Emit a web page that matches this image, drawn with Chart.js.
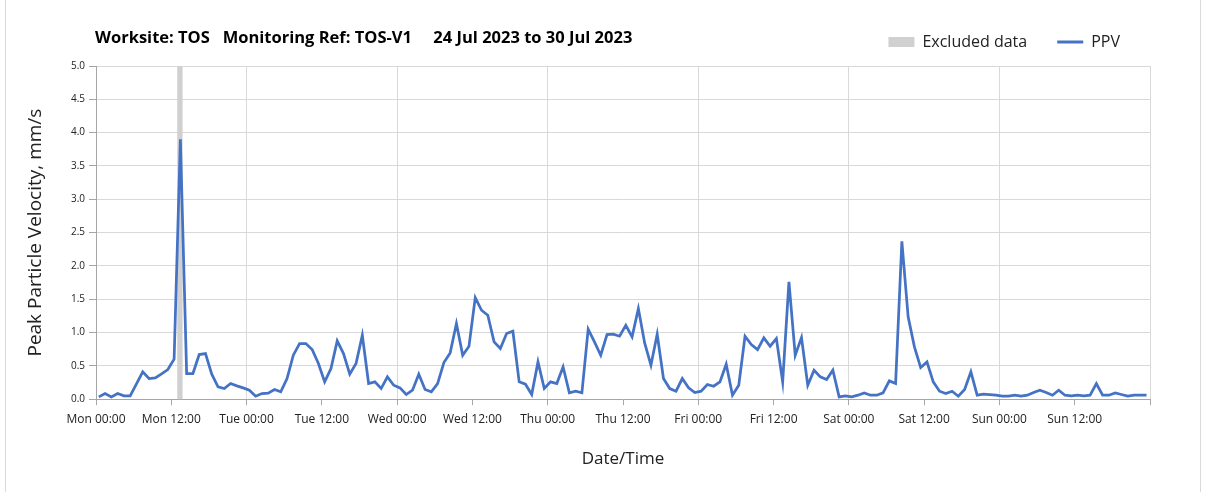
<!DOCTYPE html>
<html>
<head>
<meta charset="utf-8">
<title>PPV TOS-V1</title>
<script src="https://cdn.jsdelivr.net/npm/chart.js@4.4.0/dist/chart.umd.min.js"></script>
<style>
  html, body { margin: 0; padding: 0; background: #fff; }
  #frame { position: relative; width: 1208px; height: 492px; }
  #edge { position: absolute; left: 5px; top: 0; width: 1196px; height: 492px;
          border-left: 1px solid #d9d9d9; border-right: 1px solid #d9d9d9; box-sizing: border-box; }
  canvas { position: absolute; left: 0; top: 0; }
</style>
</head>
<body>
<div id="frame">
  <div id="edge"></div>
  <canvas id="myChart" width="1208" height="492"></canvas>
</div>
<script>
// hourly PPV readings (mm/s), first reading just before Mon 00:30
var ppv = [
  0.035, 0.085, 0.035, 0.085, 0.05, 0.05, 0.23, 0.41, 0.31, 0.32, 0.38, 0.445,
  0.6, 3.9, 0.385, 0.385, 0.67, 0.685, 0.375, 0.185, 0.16, 0.235, 0.2, 0.17,
  0.135, 0.045, 0.085, 0.09, 0.145, 0.11, 0.31, 0.66, 0.835, 0.835, 0.745, 0.535,
  0.26, 0.46, 0.875, 0.685, 0.375, 0.535, 0.96, 0.235, 0.26, 0.16, 0.335, 0.21,
  0.17, 0.07, 0.135, 0.375, 0.145, 0.11, 0.235, 0.55, 0.695, 1.135, 0.66, 0.795,
  1.525, 1.335, 1.26, 0.86, 0.76, 0.985, 1.02, 0.26, 0.225, 0.07, 0.56, 0.16,
  0.26, 0.235, 0.485, 0.095, 0.12, 0.095, 1.05, 0.86, 0.66, 0.97, 0.975, 0.945,
  1.11, 0.935, 1.36, 0.845, 0.51, 0.975, 0.31, 0.16, 0.12, 0.31, 0.17, 0.1,
  0.12, 0.22, 0.195, 0.26, 0.525, 0.06, 0.21, 0.945, 0.82, 0.745, 0.92, 0.795,
  0.91, 0.26, 1.76, 0.66, 0.925, 0.21, 0.435, 0.335, 0.295, 0.435, 0.035, 0.05,
  0.035, 0.06, 0.095, 0.06, 0.06, 0.095, 0.275, 0.235, 2.37, 1.235, 0.785, 0.475,
  0.56, 0.26, 0.12, 0.085, 0.12, 0.045, 0.145, 0.41, 0.06, 0.075, 0.07, 0.06,
  0.045, 0.045, 0.06, 0.045, 0.06, 0.1, 0.135, 0.1, 0.06, 0.135, 0.06, 0.05,
  0.06, 0.05, 0.06, 0.235, 0.06, 0.06, 0.095, 0.07, 0.045, 0.06, 0.06, 0.06
];
var firstReading = 0.45; // hours after Mon 00:00

// excluded period, hours after Mon 00:00
var excludedFrom = 12.95;
var excludedTo = 13.8;

var xTickLabels = ['Mon 00:00', 'Mon 12:00', 'Tue 00:00', 'Tue 12:00', 'Wed 00:00', 'Wed 12:00',
  'Thu 00:00', 'Thu 12:00', 'Fri 00:00', 'Fri 12:00', 'Sat 00:00', 'Sat 12:00',
  'Sun 00:00', 'Sun 12:00', ''];

var titleText = 'Worksite: TOS   Monitoring Ref: TOS-V1     24 Jul 2023 to 30 Jul 2023';

var points = ppv.map(function (v, i) { return { x: firstReading + i, y: v }; });

// grey band for excluded data, drawn under the line
var excludedBand = {
  id: 'excludedBand',
  beforeDatasetsDraw: function (chart) {
    var x = chart.scales.x, a = chart.chartArea, c = chart.ctx;
    var x0 = x.getPixelForValue(excludedFrom), x1 = x.getPixelForValue(excludedTo);
    c.save();
    c.fillStyle = '#d0d0d0';
    c.fillRect(x0, a.top, x1 - x0, a.bottom - a.top);
    c.restore();
  }
};

// title sits on the same row as the legend
var leftTitle = {
  id: 'leftTitle',
  afterDraw: function (chart) {
    var c = chart.ctx;
    c.save();
    c.font = 'bold 16.5px "Open Sans", sans-serif';
    c.fillStyle = '#000';
    c.textBaseline = 'middle';
    c.fillText(titleText, 95, 38);
    c.restore();
  }
};

// legend row is taller than its text, plot starts lower
var legendHeight = {
  id: 'legendHeight',
  beforeLayout: function (chart) {
    var lg = chart.legend;
    if (lg && !lg._fixedFit) {
      var fit = lg.fit;
      lg.fit = function () { fit.call(this); this.height = 62; };
      lg._fixedFit = true;
    }
  }
};

var config = {
  type: 'line',
  data: {
    datasets: [{
      label: 'PPV',
      data: points,
      borderColor: '#4472C4',
      borderWidth: 2.75,
      pointRadius: 0,
      fill: false,
      tension: 0
    }]
  },
  plugins: [excludedBand, leftTitle, legendHeight],
  options: {
    responsive: false,
    animation: false,
    layout: { padding: { left: 0, right: 58, top: 4, bottom: 19 } },
    plugins: {
      title: { display: false },
      tooltip: { enabled: false },
      legend: {
        position: 'top',
        align: 'end',
        labels: {
          usePointStyle: true,
          pointStyleWidth: 26,
          boxHeight: 10,
          padding: 30,
          color: '#222',
          font: { family: '"Open Sans", sans-serif', size: 16 },
          generateLabels: function () {
            return [
              { text: 'Excluded data', fillStyle: '#d0d0d0', strokeStyle: '#d0d0d0', lineWidth: 0, pointStyle: 'rect', hidden: false, fontColor: '#222' },
              { text: 'PPV', fillStyle: '#4472C4', strokeStyle: '#4472C4', lineWidth: 3, pointStyle: 'line', hidden: false, fontColor: '#222' }
            ];
          }
        }
      }
    },
    scales: {
      x: {
        type: 'linear',
        min: 0,
        max: 168,
        afterBuildTicks: function (scale) {
          scale.ticks = xTickLabels.map(function (_, i) { return { value: i * 12 }; });
        },
        ticks: {
          autoSkip: false,
          maxRotation: 0,
          padding: 7,
          color: '#222',
          font: { family: '"Open Sans", sans-serif', size: 12 },
          callback: function (v) { return xTickLabels[Math.round(v / 12)]; }
        },
        grid: {
          color: function (ctx) { return ctx.tick && ctx.tick.value % 24 === 0 ? '#d9d9d9' : 'rgba(0,0,0,0)'; },
          tickColor: '#a6a6a6',
          tickLength: 6,
          drawTicks: true
        },
        border: { color: '#a6a6a6' },
        title: {
          display: true,
          text: 'Date/Time',
          color: '#222',
          font: { family: '"Open Sans", sans-serif', size: 17 },
          padding: { top: 15 }
        }
      },
      y: {
        min: 0,
        max: 5,
        ticks: {
          stepSize: 0.5,
          padding: 4,
          color: '#222',
          font: { family: '"Open Sans", sans-serif', size: 10 },
          callback: function (v) { return v.toFixed(1); }
        },
        grid: { color: '#d9d9d9', tickColor: '#a6a6a6', tickLength: 7 },
        border: { color: '#a6a6a6' },
        title: {
          display: true,
          text: 'Peak Particle Velocity, mm/s',
          color: '#222',
          font: { family: '"Open Sans", sans-serif', size: 19 },
          padding: { top: 24, bottom: 0 }
        },
        afterFit: function (scale) { scale.width = 96; }
      }
    }
  }
};

var ctx = document.getElementById('myChart').getContext('2d');
var myChart = new Chart(ctx, config);
</script>
</body>
</html>
